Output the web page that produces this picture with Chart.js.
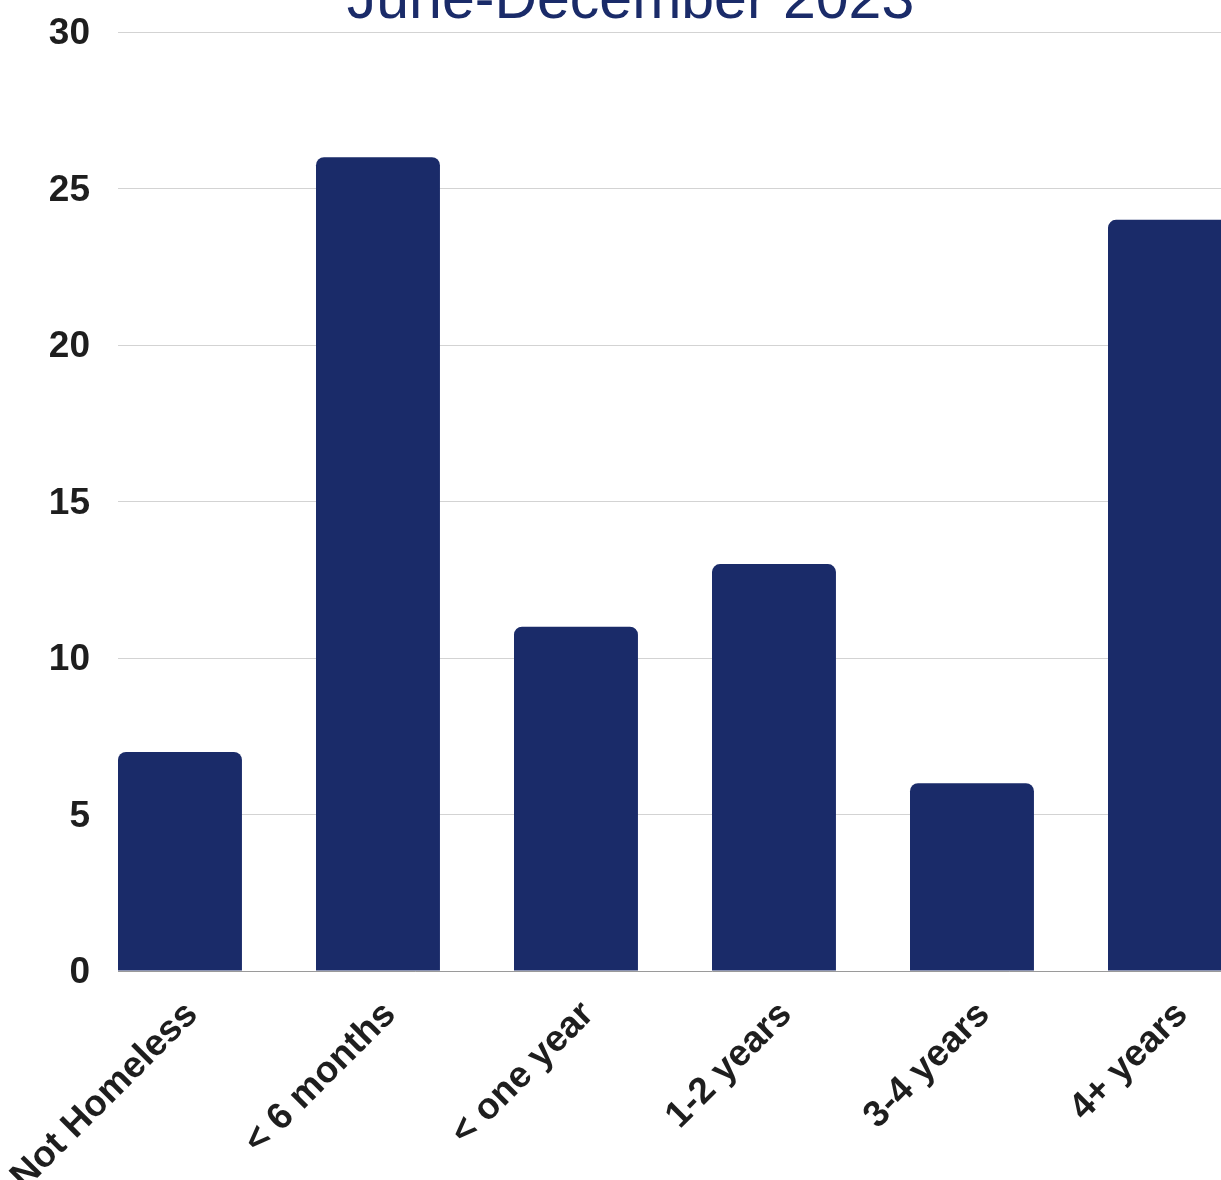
<!DOCTYPE html>
<html>
<head>
<meta charset="utf-8">
<script src="https://cdn.jsdelivr.net/npm/chart.js@4.4.0/dist/chart.umd.min.js"></script>
<style>
  html, body { margin: 0; padding: 0; background: #fff; }
  #wrap { position: relative; width: 1221px; height: 1180px; overflow: hidden; background: #fff; }
  #chart { position: absolute; left: -45px; top: -28px; }
</style>
</head>
<body>
<div id="wrap"><canvas id="chart" width="1361" height="1259"></canvas></div>
<script>
// ===== DATA =====
const titleText = 'June-December 2023';
const categories = ['Not Homeless', '< 6 months', '< one year', '1-2 years', '3-4 years', '4+ years'];
const counts = [7, 26, 11, 13, 6, 24];
const yTicks = { min: 0, max: 30, step: 5 };

const navy = '#1a2b69';
const tickFont = { family: '"Liberation Sans", Arial, sans-serif', size: 37, weight: 'bold' };

// bar chart on a linear x axis so the first bar can sit flush with the grid start
const points = counts.map((v, i) => ({ x: i, y: v }));

const ctx = document.getElementById('chart').getContext('2d');
new Chart(ctx, {
  type: 'bar',
  data: {
    datasets: [{
      data: points,
      backgroundColor: navy,
      borderRadius: 8,
      borderSkipped: 'start',
      barPercentage: 0.626,
      categoryPercentage: 1
    }]
  },
  options: {
    responsive: false,
    animation: false,
    devicePixelRatio: 1,
    layout: { padding: { left: 0, right: 10, top: 0, bottom: 0 } },
    plugins: {
      legend: { display: false },
      tooltip: { enabled: false },
      title: {
        display: true,
        text: titleText,
        color: navy,
        font: { family: '"Liberation Sans", Arial, sans-serif', size: 59, weight: 'normal', lineHeight: 1 },
        padding: { top: 0, bottom: 1 }
      }
    },
    scales: {
      x: {
        type: 'linear',
        offset: false,
        min: -0.313,
        max: 5.687,
        grid: { display: false },
        border: { display: true, color: '#9a9a9a', width: 1 },
        afterBuildTicks: s => { s.ticks = categories.map((c, i) => ({ value: i })); },
        ticks: {
          autoSkip: false,
          minRotation: 45,
          maxRotation: 45,
          padding: 14,
          labelOffset: 12,
          color: '#1e1e1e',
          font: tickFont,
          callback: v => categories[v]
        },
        afterFit: s => { s.height = 260; }
      },
      y: {
        min: yTicks.min,
        max: yTicks.max,
        grid: { color: '#d3d3d3', lineWidth: 1, drawTicks: false },
        border: { display: false },
        ticks: {
          stepSize: yTicks.step,
          padding: 28,
          labelOffset: 2,
          color: '#1e1e1e',
          font: tickFont
        },
        afterFit: s => { s.width = 163; }
      }
    }
  }
});
</script>
</body>
</html>
